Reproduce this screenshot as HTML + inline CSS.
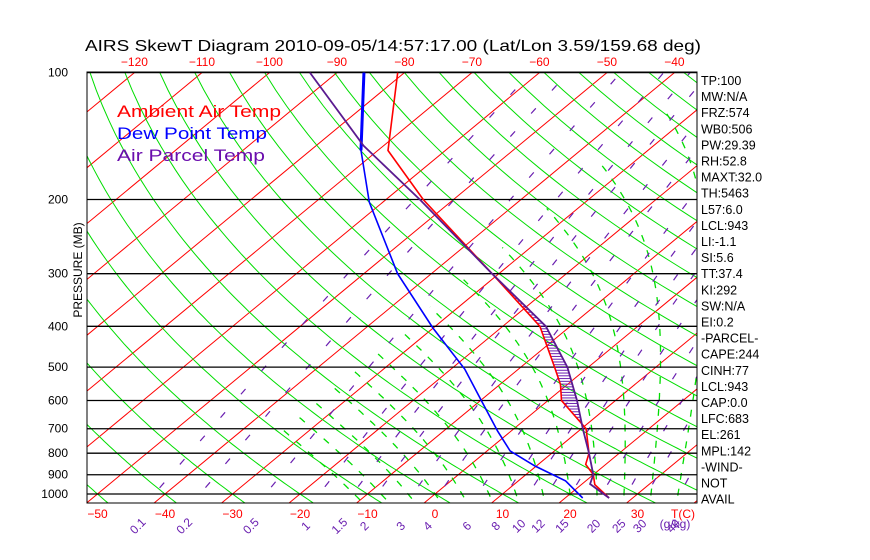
<!DOCTYPE html>
<html><head><meta charset="utf-8"><style>
body{margin:0;background:#fff;width:870px;height:560px;overflow:hidden}
svg{display:block;font-family:"Liberation Sans",sans-serif}
</style></head><body>
<svg id="chart" width="870" height="560" viewBox="0 0 870 560">
<defs><clipPath id="plotclip"><rect x="87" y="72" width="610" height="431"/></clipPath></defs>
<text x="85" y="51" font-size="16" fill="#000" textLength="616" lengthAdjust="spacingAndGlyphs">AIRS SkewT Diagram 2010-09-05/14:57:17.00 (Lat/Lon 3.59/159.68 deg)</text>
<g id="grid" clip-path="url(#plotclip)"></g>
<g id="series" clip-path="url(#plotclip)"></g>
<rect x="87" y="72" width="610" height="431" fill="none" stroke="#000" stroke-width="1"/>
<g id="axes"></g>
<text transform="translate(82,270) rotate(-90)" text-anchor="middle" font-size="12">PRESSURE (MB)</text>
<text x="117" y="117" font-size="17" fill="#ff0000" textLength="164" lengthAdjust="spacingAndGlyphs">Ambient Air Temp</text>
<text x="117" y="139" font-size="17" fill="#0000ff" textLength="150" lengthAdjust="spacingAndGlyphs">Dew Point Temp</text>
<text x="117" y="161" font-size="17" fill="#6a0dad" textLength="148" lengthAdjust="spacingAndGlyphs">Air Parcel Temp</text>
<g id="info"></g>
</svg>
<script>
var pressureLevels=[100,200,300,400,500,600,700,800,900,1000];
var bottomTicks=[-50,-40,-30,-20,-10,0,10,20,30];
var topTicks=[-120,-110,-100,-90,-80,-70,-60,-50,-40];
var mixRatios=[0.1,0.2,0.5,1,1.5,2,3,4,6,8,10,12,15,20,25,30,40];
var tempP=[1022,950,900,850,800,700,600,550,500,400,300,200,153,100];
var tempT=[26.5,22,20,17,15.5,10.7,2,-1,-5,-14.5,-31,-54.5,-68.5,-81];
var dewP=[1022,931,858,790,709,605,505,404,300,203,153,100];
var dewT=[22.6,17,9.8,3.4,-2,-9.5,-18,-30,-45,-62,-72.5,-86];
var parcelP=[1022,947,900,800,700,600,500,400,300,200,149,100];
var parcelT=[26.5,21.2,20,15.5,10.2,4.3,-3.1,-13.6,-31,-55,-73,-94];
var infoLines=["TP:100","MW:N/A","FRZ:574","WB0:506","PW:29.39","RH:52.8","MAXT:32.0","TH:5463","L57:6.0","LCL:943","LI:-1.1","SI:5.6","TT:37.4","KI:292","SW:N/A","EI:0.2","-PARCEL-","CAPE:244","CINH:77","LCL:943","CAP:0.0","LFC:683","EL:261","MPL:142","-WIND-","  NOT","AVAIL"];

var NS="http://www.w3.org/2000/svg";
function yP(p){return 494-183*Math.log(1000/p);}
function xT(t,p){return 435+6.75*t+1.209*(494-yP(p));}
function mk(tag,attrs,parent){var e=document.createElementNS(NS,tag);for(var k in attrs)e.setAttribute(k,attrs[k]);parent.appendChild(e);return e;}
function interp(P,T,p){for(var i=0;i<P.length-1;i++){if(p<=P[i]&&p>=P[i+1]){var f=Math.log(P[i]/p)/Math.log(P[i]/P[i+1]);return T[i]+f*(T[i+1]-T[i]);}}return null;}
function ptsStr(P,T){return P.map(function(p,i){return xT(T[i],p).toFixed(1)+","+yP(p).toFixed(1);}).join(" ");}
var grid=document.getElementById('grid'),series=document.getElementById('series'),axes=document.getElementById('axes'),info=document.getElementById('info');

for(var t=-160;t<=50;t+=10){
  var l=mk('line',{x1:xT(t,1100),y1:yP(1100),x2:xT(t,90),y2:yP(90),stroke:'#ff0000','stroke-width':1},grid);
  
  
}
for(var th=-60;th<=180;th+=10){
  var pts=[];for(var p=1100;p>=90;p-=10){var T=(th+273.15)*Math.pow(p/1000,0.286)-273.15;pts.push(xT(T,p).toFixed(1)+","+yP(p).toFixed(1));}
  var d=mk('polyline',{points:pts.join(" "),fill:'none',stroke:'#00dd00','stroke-width':1},grid);
  
  
}
function es(T){return 6.112*Math.exp(17.67*T/(T+243.5));}
function step(T,p,dp){var rs=0.622*es(T-273.15)/(p-es(T-273.15));var num=287*T+2.5e6*rs;var den=1004+2.5e6*2.5e6*rs*0.622/(287*T*T);return num/den/p*dp;}
for(var tw=-12;tw<=40;tw+=4){
  var pts=[],T=tw+273.15;
  var up=[];for(var pp=1000;pp>=100;pp-=5){up.push([T,pp]);T-=step(T,pp,5);}
  T=tw+273.15;var dn=[];for(var pp2=1000;pp2<=1100;pp2+=5){dn.unshift([T,pp2]);T+=step(T,pp2,5);}
  dn.concat(up).forEach(function(a){if(a[0]-273.15>-35)pts.push(xT(a[0]-273.15,a[1]).toFixed(1)+","+yP(a[1]).toFixed(1));});
  if(pts.length<2)continue;
  var m=mk('polyline',{points:pts.join(" "),fill:'none',stroke:'#00dd00','stroke-width':1.3,'stroke-dasharray':'7,9'},grid);
  
  
}
function tFromW(w,p){var e=w*p/(622+w);var L=Math.log(e/6.112);return 243.5*L/(17.67-L);}
mixRatios.forEach(function(w){
  var pts=[];for(var p=1100;p>=100;p-=20)pts.push(xT(tFromW(w,p),p).toFixed(1)+","+yP(p).toFixed(1));
  var ml=mk('polyline',{points:pts.join(" "),fill:'none',stroke:'#6a1fb0','stroke-width':1.2,'stroke-dasharray':'7,24'},grid);
  
  
  var py=1000*Math.exp(31/183);
  var lx=xT(tFromW(w,py),py)+10;
  var lb=mk('text',{x:lx,y:530,'font-size':12,fill:'#6a1fb0','text-anchor':'middle',transform:'rotate(-45 '+lx+' 526)'},axes);
  lb.textContent=String(w);
  
  
});
pressureLevels.forEach(function(p){
  var y=yP(p);
  var l=mk('line',{x1:87,y1:y,x2:697,y2:y,stroke:'#000','stroke-width':1.3},grid);
  
  
  var tx=mk('text',{x:68,y:y+4,'font-size':12,'text-anchor':'end'},axes);
  tx.textContent=String(p);
  
  
});
bottomTicks.forEach(function(t){
  var tx=mk('text',{x:xT(t,1000),y:518,'font-size':12,fill:'#ff0000','text-anchor':'middle'},axes);
  tx.textContent=String(t).replace('-','\u2212');
  
  
});
var tc=mk('text',{x:683,y:518,'font-size':12,fill:'#ff0000','text-anchor':'middle'},axes);
tc.textContent='T(C)';


var gk=mk('text',{x:675,y:528,'font-size':12,fill:'#6a1fb0','text-anchor':'middle'},axes);
gk.textContent='(g/kg)';


topTicks.forEach(function(t){
  var tx=mk('text',{x:xT(t,100),y:66,'font-size':12,fill:'#ff0000','text-anchor':'middle'},axes);
  tx.textContent=String(t).replace('-','\u2212');
  
  
});
for(var hp=720;hp>=290;hp*=0.985){
  var a=interp(parcelP,parcelT,hp),b=interp(tempP,tempT,hp);
  if(a!==null&&b!==null&&a>b){
    var h=mk('line',{x1:xT(b,hp),y1:yP(hp),x2:xT(a,hp),y2:yP(hp),stroke:'#6a1fb0','stroke-width':1},series);
    
    
  }
}
var tl=mk('polyline',{points:ptsStr(tempP,tempT),fill:'none',stroke:'#ff0000','stroke-width':1.6},series);


var dl=mk('polyline',{points:ptsStr(dewP,dewT),fill:'none',stroke:'#0000ff','stroke-width':1.6},series);


var dv=mk('line',{x1:xT(dewT[10],dewP[10]),y1:yP(dewP[10]),x2:xT(dewT[11],dewP[11]),y2:yP(dewP[11]),stroke:'#0000ff','stroke-width':3},series);


var pl=mk('polyline',{points:ptsStr(parcelP,parcelT),fill:'none',stroke:'#5a1a90','stroke-width':1.8},series);


infoLines.forEach(function(s,i){
  var tx=mk('text',{x:701,y:85+i*16.1,'font-size':12.5,fill:'#000','xml:space':'preserve'},info);
  tx.textContent=s;
  
  
});
</script>
</body></html>
